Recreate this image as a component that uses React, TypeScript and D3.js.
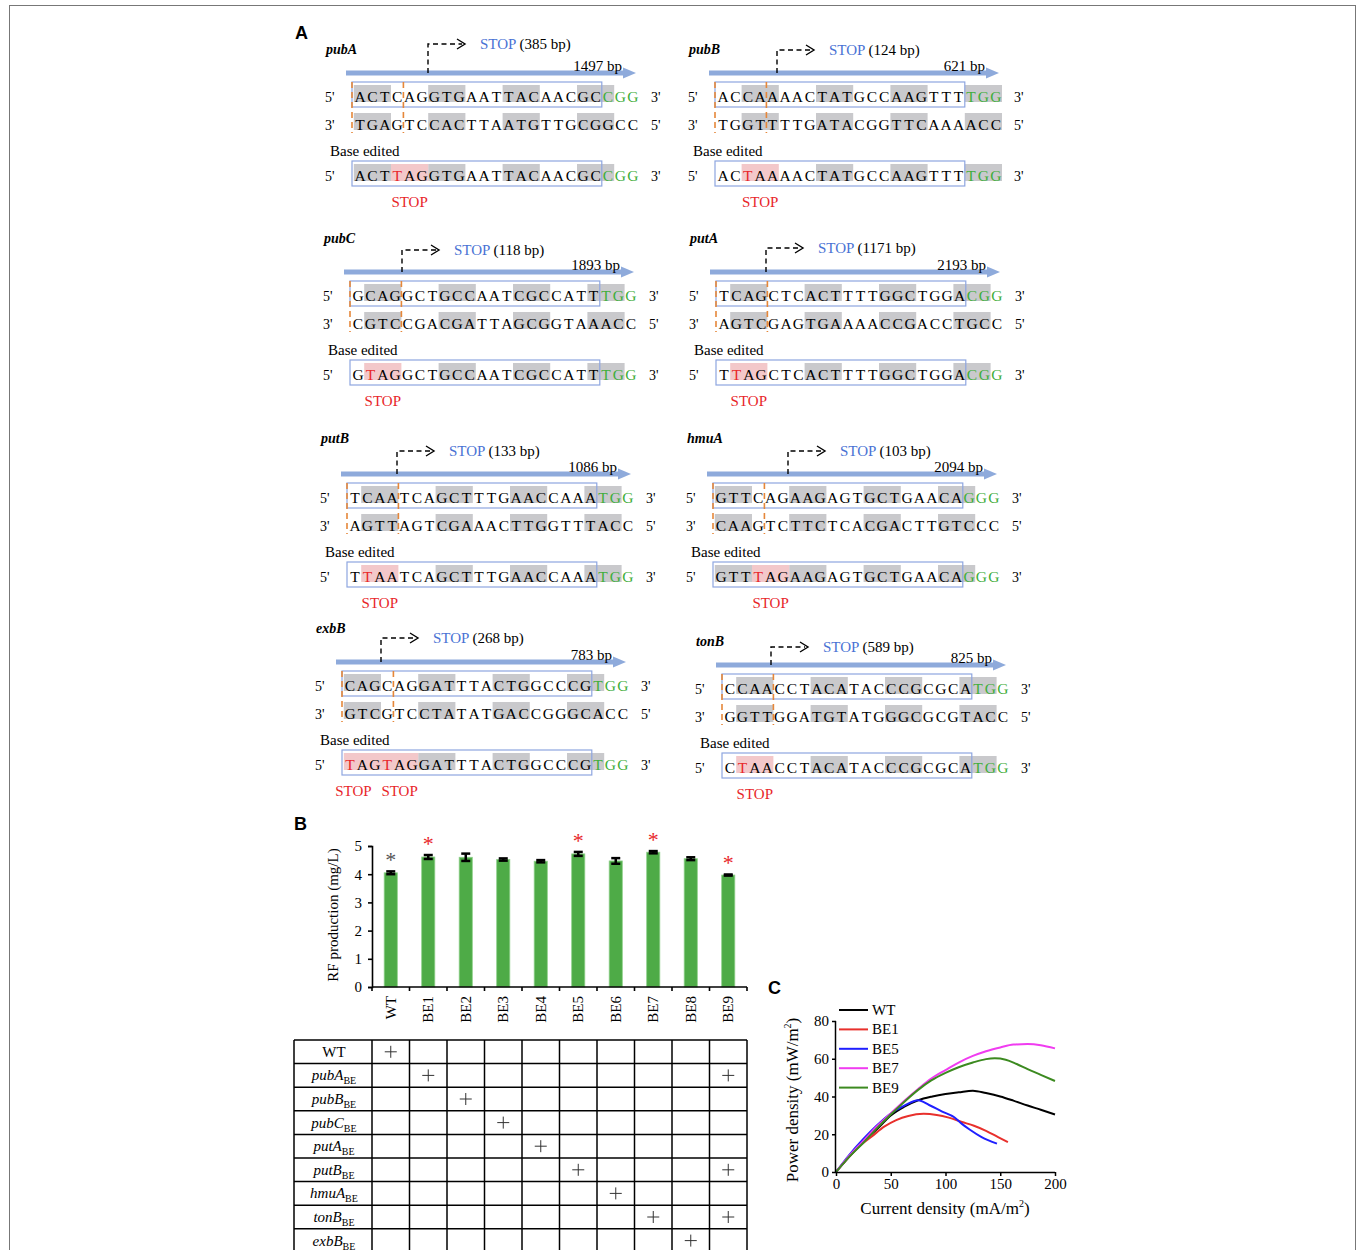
import React, { useEffect, useRef } from 'react';
import * as d3 from 'd3';

// ---- panel A data ----
const genes = ['pubA', 'pubB', 'pubC', 'putA', 'putB', 'hmuA', 'exbB', 'tonB'];
const stopBp = [385, 124, 118, 1171, 133, 103, 268, 589];
const geneBp = [1497, 621, 1893, 2193, 1086, 2094, 783, 825];
const topSeqs = [
  'ACTCAGGTGAATTACAACGCCGG',
  'ACCAAAACTATGCCAAGTTTTGG',
  'GCAGGCTGCCAATCGCCATTTGG',
  'TCAGCTCACTTTTGGCTGGACGG',
  'TCAATCAGCTTTGAACCAAATGG',
  'GTTCAGAAGAGTGCTGAACAGGG',
  'CAGCAGGATTTACTGGCCCGTGG',
  'CCAACCTACATACCCGCGCATGG',
];
const bottomSeqs = [
  'TGAGTCCACTTAATGTTGCGGCC',
  'TGGTTTTGATACGGTTCAAAACC',
  'CGTCCGACGATTAGCGGTAAACC',
  'AGTCGAGTGAAAACCGACCTGCC',
  'AGTTAGTCGAAACTTGGTTTACC',
  'CAAGTCTTCTCACGACTTGTCCC',
  'GTCGTCCTATATGACCGGGCACC',
  'GGTTGGATGTATGGGCGCGTACC',
];
const editedSeqs = [
  'ACTTAGGTGAATTACAACGCCGG',
  'ACTAAAACTATGCCAAGTTTTGG',
  'GTAGGCTGCCAATCGCCATTTGG',
  'TTAGCTCACTTTTGGCTGGACGG',
  'TTAATCAGCTTTGAACCAAATGG',
  'GTTTAGAAGAGTGCTGAACAGGG',
  'TAGTAGGATTTACTGGCCCGTGG',
  'CTAACCTACATACCCGCGCATGG',
];
const shadedCodons = [
  [0, 6, 12, 18], [2, 8, 14, 20], [1, 7, 13, 19], [1, 7, 13, 19],
  [1, 7, 13, 19], [0, 6, 12, 18], [0, 6, 12, 18], [1, 7, 13, 19],
];
const stopCodons = [[3], [2], [1], [1], [1], [3], [0, 3], [1]];

// block layout (5' label x, first row y) and small per-block offsets
const blockPos = [[325, 97], [688, 97], [323, 296], [689, 296], [320, 498], [686, 498], [315, 686], [695, 689]];
const nameDy = [-43, -43, -53, -53, -55, -55, -53, -43];
const stopDy = [-53, -47, -46, -48, -47, -47, -48, -42];
const turnDx = [103, 89, 79, 77, 77, 102, 66, 76];

// ---- panel B data ----
const strains = ['WT', 'BE1', 'BE2', 'BE3', 'BE4', 'BE5', 'BE6', 'BE7', 'BE8', 'BE9'];
const rfMean = [4.05, 4.61, 4.6, 4.52, 4.46, 4.72, 4.47, 4.78, 4.55, 3.97];
const rfErr = [0.05, 0.07, 0.13, 0.04, 0.04, 0.07, 0.1, 0.04, 0.05, 0.02];
const rfSig = ['gray', 'red', '', '', '', 'red', '', 'red', '', 'red'];
const editRows = ['WT', 'pubA', 'pubB', 'pubC', 'putA', 'putB', 'hmuA', 'tonB', 'exbB'];
const editMarks = [[0], [1, 9], [2], [3], [4], [5, 9], [6], [7, 9], [8]];

// ---- panel C data ----
const curveNames = ['WT', 'BE1', 'BE5', 'BE7', 'BE9'];
const curveColors = ['#000000', '#e8302c', '#1f1fff', '#f03cf0', '#3c8a20'];
const wtX = [0, 12, 25, 38, 50, 62, 75, 88, 100, 112, 125, 137, 150, 162, 175, 187, 200];
const wtY = [0, 8, 16, 23, 30, 34.5, 38, 40, 41.3, 42.2, 43.1, 41.8, 40, 37.8, 35.2, 33, 30.5];
const be1X = [0, 11, 22, 33, 44, 55, 66, 80, 92, 103, 115, 126, 137, 148, 157];
const be1Y = [0, 7.5, 14, 19, 24, 27.5, 29.7, 30.8, 30.2, 28.8, 26.5, 24.5, 21.8, 18.5, 15.8];
const be5X = [0, 12, 25, 37, 50, 62, 75, 85, 97, 108, 115, 122, 133, 147];
const be5Y = [0, 9, 17.5, 24.5, 31, 35, 38, 35.5, 32, 29, 25.5, 22.5, 18.5, 15];
const be7X = [0, 12, 25, 37, 50, 62, 75, 87, 100, 112, 125, 137, 150, 162, 175, 187, 200];
const be7Y = [0, 8.5, 16.5, 24, 31, 37.5, 44, 49.5, 54, 58, 61.5, 64, 66, 67.5, 67.8, 67.2, 65.5];
const be9X = [0, 12, 25, 37, 50, 62, 75, 87, 100, 112, 125, 137, 145, 155, 165, 175, 187, 200];
const be9Y = [0, 8, 15.5, 23, 30.5, 37, 43.5, 48.5, 52.5, 55.5, 58, 59.8, 60.2, 59.5, 57.2, 54.5, 51.5, 48.2];
const curveXs = [wtX, be1X, be5X, be7X, be9X];
const curveYs = [wtY, be1Y, be5Y, be7Y, be9Y];

const serif = "'Liberation Serif', 'Times New Roman', serif";
const sans = "'Liberation Sans', Arial, sans-serif";
const GRAY = '#c9c9cc';
const PINK = '#f3c8ca';
const RED = '#e8262a';
const GREEN = '#3fae3a';
const BLUE_TXT = '#4a72d4';
const BOX = '#8ea6e0';
const ARROW = '#8eaadb';
const ORANGE = '#e5873a';

function drawGene(svg: any, i: number) {
  const [x0, r1] = blockPos[i];
  const r2 = r1 + 28;
  const r3 = r1 + 79;
  const pitch = 12.4;
  const cx = (k: number) => x0 + 35 + pitch * k;
  const g = svg.append('g').style('font-family', serif);

  g.append('text').attr('x', x0 + 1).attr('y', r1 + nameDy[i])
    .style('font-size', '14px').style('font-weight', 'bold').style('font-style', 'italic')
    .text(genes[i]);

  // gene arrow
  const ay = r1 - 24;
  const aStart = x0 + 21;
  const aEnd = x0 + 311;
  g.append('rect').attr('x', aStart).attr('y', ay - 2.5).attr('width', aEnd - 12 - aStart).attr('height', 5).attr('fill', ARROW);
  g.append('path').attr('d', `M${aEnd - 13},${ay - 5.5}L${aEnd},${ay}L${aEnd - 13},${ay + 5.5}Z`).attr('fill', ARROW);
  g.append('text').attr('x', aEnd - 14).attr('y', ay - 2).attr('text-anchor', 'end')
    .style('font-size', '15px').text(`${geneBp[i]} bp`);

  // bent dashed arrow
  const vx = x0 + turnDx[i];
  const ly = r1 + stopDy[i];
  g.append('path').attr('d', `M${vx},${ay}V${ly}H${vx + 34}`)
    .attr('fill', 'none').attr('stroke', '#000').attr('stroke-width', 1.4).attr('stroke-dasharray', '5,3.5');
  g.append('path').attr('d', `M${vx + 29},${ly - 5}L${vx + 37},${ly}L${vx + 29},${ly + 5}`)
    .attr('fill', 'none').attr('stroke', '#000').attr('stroke-width', 1.4);
  const st = g.append('text').attr('x', vx + 52).attr('y', ly + 5).style('font-size', '15px');
  st.append('tspan').attr('fill', BLUE_TXT).text('STOP');
  st.append('tspan').attr('fill', '#000').text(` (${stopBp[i]} bp)`);

  // shading
  const codonRect = (s: number, r: number, color: string) => {
    const a = Math.max(s, 0);
    const b = Math.min(s + 2, 22);
    g.append('rect').attr('x', cx(a) - 6.2).attr('y', r - 12).attr('width', cx(b) - cx(a) + 12.4)
      .attr('height', 17).attr('fill', color);
  };
  const stops = stopCodons[i];
  shadedCodons[i].forEach(s => {
    codonRect(s, r1, GRAY);
    codonRect(s, r2, GRAY);
    if (!stops.some(p => s + 2 >= p && s <= p + 2)) codonRect(s, r3, GRAY);
  });
  stops.forEach(s => codonRect(s, r3, PINK));

  // protospacer boxes
  [r1, r3].forEach(r => {
    g.append('rect').attr('x', cx(0) - 8).attr('y', r - 15).attr('width', cx(19) + 6.2 - (cx(0) - 8))
      .attr('height', 25).attr('fill', 'none').attr('stroke', BOX).attr('stroke-width', 1.2);
  });
  [cx(0) - 8, cx(3) + 6.2].forEach(x => {
    g.append('line').attr('x1', x).attr('x2', x).attr('y1', r1 - 15).attr('y2', r2 + 8)
      .attr('stroke', ORANGE).attr('stroke-width', 1.6).attr('stroke-dasharray', '6,4');
  });

  // sequences
  const rows = [
    { seq: topSeqs[i], y: r1, l: "5'", r: "3'", edited: false, pam: true },
    { seq: bottomSeqs[i], y: r2, l: "3'", r: "5'", edited: false, pam: false },
    { seq: editedSeqs[i], y: r3, l: "5'", r: "3'", edited: true, pam: true },
  ];
  rows.forEach(row => {
    g.append('text').attr('x', x0).attr('y', row.y + 5).style('font-size', '14px').text(row.l);
    g.append('text').attr('x', x0 + 326).attr('y', row.y + 5).style('font-size', '14px').text(row.r);
    g.selectAll(null).data(row.seq.split('')).enter().append('text')
      .attr('x', (_: string, k: number) => cx(k)).attr('y', row.y + 5).attr('text-anchor', 'middle')
      .style('font-size', '15.5px')
      .attr('fill', (_: string, k: number) => {
        if (row.pam && k >= 20) return GREEN;
        if (row.edited && stops.includes(k)) return RED;
        return '#000';
      })
      .text((d: string) => d);
  });

  g.append('text').attr('x', x0 + 5).attr('y', r1 + 59).style('font-size', '15px').text('Base edited');
  stops.forEach((s, j) => {
    const shift = stops.length > 1 && j === 0 ? -9 : 0;
    g.append('text').attr('x', cx(s + 1) + shift).attr('y', r1 + 110).attr('text-anchor', 'middle')
      .attr('fill', RED).style('font-size', '15px').text('STOP');
  });
}

function drawPanelB(svg: any) {
  const g = svg.append('g').style('font-family', serif);
  const x = d3.scaleBand().domain(strains).range([372, 747]);
  const y = d3.scaleLinear().domain([0, 5]).range([987, 846]);
  const bw = x.bandwidth() * 0.35;

  g.selectAll('rect.bar').data(strains).enter().append('rect')
    .attr('x', (d: string) => x(d)! + x.bandwidth() / 2 - bw / 2)
    .attr('y', (_: string, k: number) => y(rfMean[k]))
    .attr('width', bw)
    .attr('height', (_: string, k: number) => y(0) - y(rfMean[k]))
    .attr('fill', '#4eab47').attr('stroke', '#8fd08a').attr('stroke-width', 0.8);

  strains.forEach((d, k) => {
    const c = x(d)! + x.bandwidth() / 2;
    const lo = y(rfMean[k] - rfErr[k]);
    const hi = y(rfMean[k] + rfErr[k]);
    g.append('line').attr('x1', c).attr('x2', c).attr('y1', lo).attr('y2', hi).attr('stroke', '#000').attr('stroke-width', 2.5);
    [lo, hi].forEach(v => g.append('line').attr('x1', c - 4.5).attr('x2', c + 4.5).attr('y1', v).attr('y2', v)
      .attr('stroke', '#000').attr('stroke-width', 2.5));
    if (rfSig[k]) {
      g.append('text').attr('x', c).attr('y', hi - 4).attr('text-anchor', 'middle')
        .attr('fill', rfSig[k] === 'red' ? RED : '#555').style('font-size', '22px').text('*');
    }
  });

  const ya = g.append('g').attr('transform', 'translate(372,0)')
    .call(d3.axisLeft(y).ticks(5).tickSize(4).tickPadding(6).tickFormat(d3.format('d')));
  ya.selectAll('text').style('font-size', '15px').style('font-family', serif);
  ya.selectAll('path,line').attr('stroke', '#000').attr('stroke-width', 1.6);

  g.append('line').attr('x1', 372).attr('x2', 747).attr('y1', 987).attr('y2', 987).attr('stroke', '#000').attr('stroke-width', 1.6);
  [...strains.map(d => x(d)!), 747].forEach(v => {
    g.append('line').attr('x1', v).attr('x2', v).attr('y1', 987).attr('y2', 991).attr('stroke', '#000').attr('stroke-width', 1.6);
  });
  strains.forEach(d => {
    const c = x(d)! + x.bandwidth() / 2;
    g.append('text').attr('transform', `translate(${c + 5},996) rotate(-90)`).attr('text-anchor', 'end')
      .style('font-size', '15px').text(d);
  });

  g.append('text').attr('transform', 'translate(338,915) rotate(-90)').attr('text-anchor', 'middle')
    .style('font-size', '15px').text('RF production (mg/L)');

  // table
  const rowH = 23.6;
  const top = 1040;
  const left = 294;
  const nRows = editRows.length;
  const bottom = top + rowH * nRows;
  const cols = [left, ...strains.map(d => x(d)!), 747];
  cols.forEach(v => g.append('line').attr('x1', v).attr('x2', v).attr('y1', top).attr('y2', bottom)
    .attr('stroke', '#000').attr('stroke-width', 1.5));
  d3.range(nRows + 1).forEach(k => g.append('line').attr('x1', left).attr('x2', 747)
    .attr('y1', top + k * rowH).attr('y2', top + k * rowH).attr('stroke', '#000').attr('stroke-width', 1.5));
  editRows.forEach((name, k) => {
    const cy = top + k * rowH + rowH / 2;
    const t = g.append('text').attr('x', 334).attr('y', cy + 5).attr('text-anchor', 'middle').style('font-size', '15px');
    if (name === 'WT') t.text(name);
    else {
      t.append('tspan').style('font-style', 'italic').text(name);
      t.append('tspan').attr('dy', 4).style('font-size', '10px').text('BE');
    }
    editMarks[k].forEach(m => {
      const c = x(strains[m])! + x.bandwidth() / 2;
      g.append('line').attr('x1', c - 6).attr('x2', c + 6).attr('y1', cy).attr('y2', cy).attr('stroke', '#333').attr('stroke-width', 1);
      g.append('line').attr('x1', c).attr('x2', c).attr('y1', cy - 6).attr('y2', cy + 6).attr('stroke', '#333').attr('stroke-width', 1);
    });
  });
}

function drawPanelC(svg: any) {
  const g = svg.append('g').style('font-family', serif);
  const x = d3.scaleLinear().domain([0, 200]).range([836, 1055]);
  const y = d3.scaleLinear().domain([0, 80]).range([1172, 1021]);

  curveNames.forEach((_, k) => {
    const pts: [number, number][] = curveXs[k].map((v, j) => [x(v), y(curveYs[k][j])]);
    g.append('path').attr('d', d3.line().curve(d3.curveMonotoneX)(pts))
      .attr('fill', 'none').attr('stroke', curveColors[k]).attr('stroke-width', 2);
  });

  const ya = g.append('g').attr('transform', 'translate(836,0)')
    .call(d3.axisLeft(y).tickValues([0, 20, 40, 60, 80]).tickSize(4).tickPadding(3));
  const xa = g.append('g').attr('transform', 'translate(0,1172)')
    .call(d3.axisBottom(x).tickValues([0, 50, 100, 150, 200]).tickSize(4).tickPadding(2));
  [ya, xa].forEach(a => {
    a.selectAll('text').style('font-size', '15px').style('font-family', serif);
    a.selectAll('path,line').attr('stroke', '#000').attr('stroke-width', 1.5);
    a.select('.domain').attr('d', a === ya ? 'M-0.5,1021V1172' : 'M836,0.5H1055');
  });

  curveNames.forEach((name, k) => {
    const ly = 1010 + k * 19.4;
    g.append('line').attr('x1', 839).attr('x2', 868).attr('y1', ly).attr('y2', ly)
      .attr('stroke', curveColors[k]).attr('stroke-width', 2);
    g.append('text').attr('x', 872).attr('y', ly + 5).style('font-size', '15px').text(name);
  });

  const yl = g.append('text').attr('transform', 'translate(798,1100) rotate(-90)').attr('text-anchor', 'middle')
    .style('font-size', '17px');
  yl.append('tspan').text('Power density (mW/m');
  yl.append('tspan').attr('dy', -7).style('font-size', '10px').text('2');
  yl.append('tspan').attr('dy', 7).text(')');

  const xl = g.append('text').attr('x', 945).attr('y', 1214).attr('text-anchor', 'middle').style('font-size', '17px');
  xl.append('tspan').text('Current density (mA/m');
  xl.append('tspan').attr('dy', -7).style('font-size', '10px').text('2');
  xl.append('tspan').attr('dy', 7).text(')');
}

export default function App() {
  const ref = useRef<SVGSVGElement>(null);

  useEffect(() => {
    const svg = d3.select(ref.current);
    svg.selectAll('*').remove();

    svg.append('rect').attr('x', 9.5).attr('y', 5.5).attr('width', 1346).attr('height', 1300)
      .attr('fill', 'none').attr('stroke', '#777').attr('stroke-width', 1);

    const letter = (t: string, x: number, y: number) =>
      svg.append('text').attr('x', x).attr('y', y).style('font-family', sans).style('font-weight', 'bold')
        .style('font-size', '18px').text(t);
    letter('A', 295, 39);
    letter('B', 294, 830);
    letter('C', 768, 994);

    genes.forEach((_, i) => drawGene(svg, i));
    drawPanelB(svg);
    drawPanelC(svg);
  }, []);

  return (
    <svg ref={ref} width={1357} height={1250}
      style={{ position: 'absolute', left: 0, top: 0, background: '#fff' }} />
  );
}
